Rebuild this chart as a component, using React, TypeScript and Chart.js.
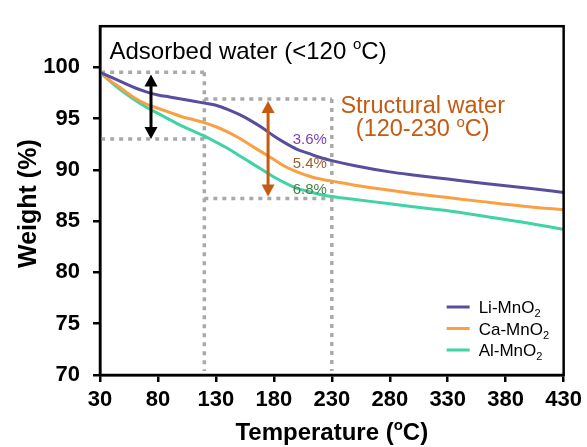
import React, { useEffect, useRef } from "react";
import { Chart, registerables } from "chart.js";

Chart.register(...registerables);

const temps = [30, 40, 50, 60, 70, 80, 90, 100, 110, 120, 130, 140, 150, 160, 170, 180, 190, 200, 210, 220, 230, 250, 280, 300, 330, 360, 400, 430];
const liMnO2 = [99.5, 99.0, 98.5, 98.0, 97.6, 97.3, 97.1, 96.9, 96.7, 96.5, 96.3, 95.9, 95.4, 94.8, 94.1, 93.3, 92.6, 92.0, 91.6, 91.2, 90.9, 90.4, 89.8, 89.5, 89.1, 88.7, 88.2, 87.8];
const caMnO2 = [99.5, 98.6, 97.8, 97.0, 96.4, 96.0, 95.6, 95.2, 94.9, 94.6, 94.2, 93.7, 93.1, 92.4, 91.7, 91.0, 90.3, 89.8, 89.4, 89.1, 88.9, 88.5, 88.0, 87.7, 87.3, 86.9, 86.4, 86.1];
const alMnO2 = [99.5, 98.5, 97.6, 96.8, 96.1, 95.5, 94.9, 94.3, 93.8, 93.3, 92.7, 92.1, 91.4, 90.7, 90.0, 89.3, 88.7, 88.2, 87.9, 87.6, 87.4, 87.1, 86.7, 86.4, 86.0, 85.5, 84.8, 84.2];

const seriesNames = ["Li-MnO", "Ca-MnO", "Al-MnO"];
const seriesColors = ["#574e9e", "#f9a043", "#3fd3a6"];

const xTicks = [30, 80, 130, 180, 230, 280, 330, 380, 430];
const yTicks = [70, 75, 80, 85, 90, 95, 100];

const lossLabels = ["3.6%", "5.4%", "6.8%"];
const lossLabelY = [92.9, 90.6, 88.05];
const lossColors = ["#7d3fb0", "#a0602e", "#4b8049"];

const FONT = "'Liberation Sans', Arial, sans-serif";

type Seg = { t: string; sup?: boolean; sub?: boolean };

function drawRich(ctx: CanvasRenderingContext2D, segs: Seg[], x: number, y: number, size: number, weight: string, color: string, align: "left" | "center") {
  const small = Math.round(size * 0.62);
  const widths = segs.map((s) => {
    ctx.font = `${weight} ${s.sup || s.sub ? small : size}px ${FONT}`;
    return ctx.measureText(s.t).width;
  });
  const total = widths.reduce((a, b) => a + b, 0);
  let cx = align === "center" ? x - total / 2 : x;
  ctx.fillStyle = color;
  ctx.textBaseline = "alphabetic";
  ctx.textAlign = "left";
  segs.forEach((s, i) => {
    ctx.font = `${weight} ${s.sup || s.sub ? small : size}px ${FONT}`;
    const dy = s.sup ? -size * 0.4 : s.sub ? size * 0.25 : 0;
    ctx.fillText(s.t, cx, y + dy);
    cx += widths[i];
  });
}

function drawArrow(ctx: CanvasRenderingContext2D, x: number, y1: number, y2: number, color: string) {
  const hl = 12;
  const hw = 6.5;
  ctx.save();
  ctx.strokeStyle = color;
  ctx.fillStyle = color;
  ctx.lineWidth = 3;
  ctx.setLineDash([]);
  ctx.beginPath();
  ctx.moveTo(x, y1 + hl - 2);
  ctx.lineTo(x, y2 - hl + 2);
  ctx.stroke();
  ctx.beginPath();
  ctx.moveTo(x, y1);
  ctx.lineTo(x - hw, y1 + hl);
  ctx.lineTo(x + hw, y1 + hl);
  ctx.closePath();
  ctx.fill();
  ctx.beginPath();
  ctx.moveTo(x, y2);
  ctx.lineTo(x - hw, y2 - hl);
  ctx.lineTo(x + hw, y2 - hl);
  ctx.closePath();
  ctx.fill();
  ctx.restore();
}

const annotPlugin = {
  id: "annot",
  beforeDatasetsDraw(chart: any) {
    const ctx: CanvasRenderingContext2D = chart.ctx;
    const xs = chart.scales.x;
    const ys = chart.scales.y;
    const X = (v: number) => xs.getPixelForValue(v);
    const Y = (v: number) => ys.getPixelForValue(v);
    ctx.save();
    ctx.strokeStyle = "#a9a9a9";
    ctx.lineWidth = 3.5;
    ctx.setLineDash([4, 5]);
    const seg = (x1: number, y1: number, x2: number, y2: number) => {
      ctx.beginPath();
      ctx.moveTo(X(x1), Y(y1));
      ctx.lineTo(X(x2), Y(y2));
      ctx.stroke();
    };
    // adsorbed water box
    seg(31, 99.5, 120, 99.5);
    seg(31, 93.0, 120, 93.0);
    seg(120, 99.5, 120, 70.4);
    // structural water box
    seg(120, 96.9, 230, 96.9);
    seg(120, 87.2, 230, 87.2);
    seg(230, 96.9, 230, 70.4);
    ctx.restore();
  },
  afterDatasetsDraw(chart: any) {
    const ctx: CanvasRenderingContext2D = chart.ctx;
    const xs = chart.scales.x;
    const ys = chart.scales.y;
    const X = (v: number) => xs.getPixelForValue(v);
    const Y = (v: number) => ys.getPixelForValue(v);
    const ca = chart.chartArea;
    ctx.save();

    // arrows
    drawArrow(ctx, X(74), Y(99.3), Y(93.0), "#000000");
    drawArrow(ctx, X(175), Y(96.7), Y(87.4), "#c55a11");

    // texts
    drawRich(ctx, [{ t: "Adsorbed water (<120 " }, { t: "o", sup: true }, { t: "C)" }], X(38.2), Y(100.8), 24, "normal", "#000", "left");
    drawRich(ctx, [{ t: "Structural water" }], X(308.4), Y(95.5), 23.5, "normal", "#c55a11", "center");
    drawRich(ctx, [{ t: "(120-230 " }, { t: "o", sup: true }, { t: "C)" }], X(308.4), Y(93.3), 23.5, "normal", "#c55a11", "center");

    ctx.font = `15px ${FONT}`;
    ctx.textAlign = "right";
    ctx.textBaseline = "middle";
    lossLabels.forEach((l, i) => {
      ctx.fillStyle = lossColors[i];
      ctx.fillText(l, X(225.7), Y(lossLabelY[i]));
    });

    // frame
    ctx.strokeStyle = "#000";
    ctx.lineWidth = 2.5;
    ctx.setLineDash([]);
    ctx.strokeRect(ca.left, ca.top, ca.right - ca.left, ca.bottom - ca.top);

    // legend
    const lx1 = ca.right - 117;
    const lx2 = ca.right - 94;
    const ly0 = ca.bottom - 68;
    seriesNames.forEach((n, i) => {
      const ly = ly0 + i * 21.5;
      ctx.strokeStyle = seriesColors[i];
      ctx.lineWidth = 3;
      ctx.beginPath();
      ctx.moveTo(lx1, ly);
      ctx.lineTo(lx2, ly);
      ctx.stroke();
      drawRich(ctx, [{ t: n }, { t: "2", sub: true }], lx2 + 9, ly + 6, 17, "normal", "#000", "left");
    });

    // axis titles
    drawRich(ctx, [{ t: "Temperature (" }, { t: "o", sup: true }, { t: "C)" }], (ca.left + ca.right) / 2, 440, 24, "bold", "#000", "center");
    ctx.save();
    ctx.translate(36, (ca.top + ca.bottom) / 2 + 3);
    ctx.rotate(-Math.PI / 2);
    drawRich(ctx, [{ t: "Weight (%)" }], 0, 0, 25, "bold", "#000", "center");
    ctx.restore();

    ctx.restore();
  },
};

export default function App() {
  const ref = useRef<HTMLCanvasElement | null>(null);
  useEffect(() => {
    document.body.style.margin = "0";
    if (!ref.current) return;
    const datasets = [liMnO2, caMnO2, alMnO2].map((vals, i) => ({
      label: seriesNames[i] + "2",
      data: temps.map((t, j) => ({ x: t, y: vals[j] })),
      borderColor: seriesColors[i],
      backgroundColor: seriesColors[i],
      borderWidth: 3,
      pointRadius: 0,
      tension: 0.4,
      cubicInterpolationMode: "monotone" as const,
      fill: false,
    }));
    const chart = new Chart(ref.current, {
      type: "line",
      data: { datasets },
      options: {
        animation: false,
        responsive: false,
        layout: { padding: { top: 14, right: 21, left: 0, bottom: 0 } },
        plugins: { legend: { display: false }, tooltip: { enabled: false } },
        scales: {
          x: {
            type: "linear",
            min: 30,
            max: 430,
            afterBuildTicks: (s: any) => {
              s.ticks = xTicks.map((v) => ({ value: v }));
            },
            afterFit: (s: any) => {
              s.height = 72;
            },
            grid: { display: true, drawOnChartArea: false, drawTicks: true, tickLength: 7, color: "#000", lineWidth: 2.5 },
            border: { display: true, color: "#000", width: 2.5 },
            ticks: { color: "#000", font: { family: FONT, size: 22, weight: "bold" }, padding: 5, maxRotation: 0, autoSkip: false },
          },
          y: {
            type: "linear",
            min: 70,
            max: 104,
            afterBuildTicks: (s: any) => {
              s.ticks = yTicks.map((v) => ({ value: v }));
            },
            afterFit: (s: any) => {
              s.width = 100;
            },
            grid: { display: true, drawOnChartArea: false, drawTicks: true, tickLength: 7, color: "#000", lineWidth: 2.5 },
            border: { display: true, color: "#000", width: 2.5 },
            ticks: { color: "#000", font: { family: FONT, size: 22, weight: "bold" }, padding: 13, autoSkip: false },
          },
        },
      },
      plugins: [annotPlugin],
    } as any);
    return () => chart.destroy();
  }, []);
  return (
    <div style={{ width: 587, height: 447, background: "#fff" }}>
      <canvas ref={ref} width={587} height={447} style={{ display: "block" }} />
    </div>
  );
}
